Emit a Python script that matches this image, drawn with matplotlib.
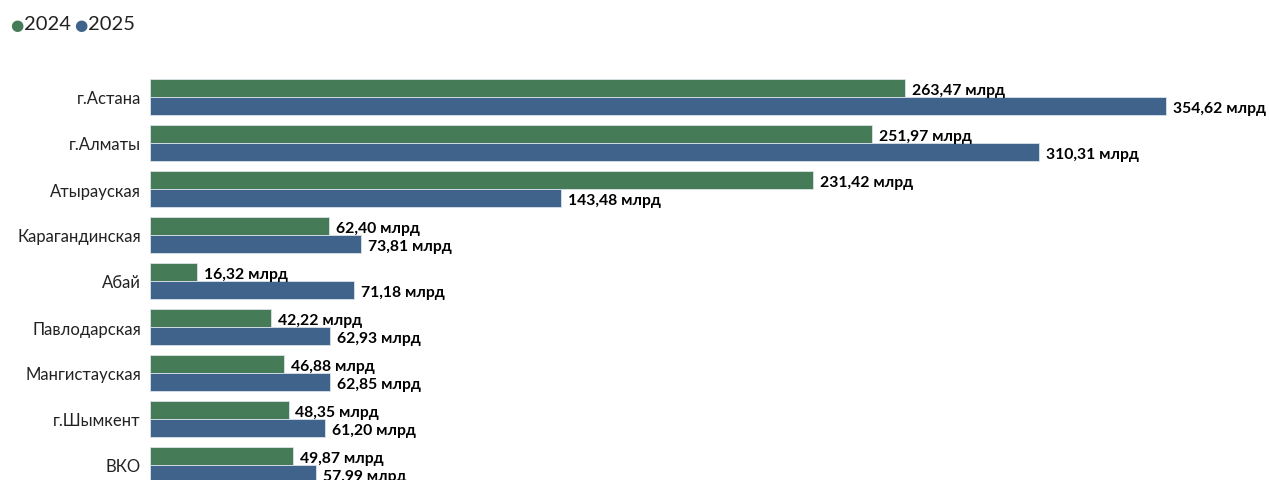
import matplotlib.pyplot as plt
import numpy as np

plt.rcParams['font.family'] = ['Lato', 'DejaVu Sans']

regions = ["г.Астана", "г.Алматы", "Атырауская", "Карагандинская", "Абай",
           "Павлодарская", "Мангистауская", "г.Шымкент", "ВКО"]
values_2024 = [263.47, 251.97, 231.42, 62.40, 16.32, 42.22, 46.88, 48.35, 49.87]
values_2025 = [354.62, 310.31, 143.48, 73.81, 71.18, 62.93, 62.85, 61.20, 57.99]
years = ["2024", "2025"]

GREEN = "#467b57"
BLUE = "#3f638b"
BAR_H = 0.39

fig = plt.figure(figsize=(12.69, 4.81), dpi=100)
ax = fig.add_axes([150 / 1269, 0, 1 - 150 / 1269, (481 - 70) / 481])

y = np.arange(len(regions))
for vals, color, off in [(values_2024, GREEN, -BAR_H / 2), (values_2025, BLUE, BAR_H / 2)]:
    ax.barh(y + off, vals, height=BAR_H, color=color,
            edgecolor="#dce3ea", linewidth=0.6)
    for yy, v in zip(y + off, vals):
        label = f"{v:.2f}".replace(".", ",") + " млрд"
        ax.annotate(label, (v, yy), xytext=(5, -1.5), textcoords="offset points",
                    va="center", ha="left", fontsize=11.3, fontweight="bold",
                    color="black", annotation_clip=False)

ax.set_xlim(0, (1269 - 150) / 2.865)
ax.set_ylim(8 + 15 / 46, -28 / 46)
ax.set_yticks(y)
ax.set_yticklabels(regions, fontsize=12, color="#222222")
ax.tick_params(axis="y", length=0, pad=6.5)
ax.set_xticks([])
for s in ax.spines.values():
    s.set_visible(False)

# legend drawn by hand at the top left
fig.text(10 / 1269, 1 - 25 / 481, "●", color=GREEN, fontsize=11, va="center",
         family="DejaVu Sans")
fig.text(24 / 1269, 1 - 25 / 481, years[0], fontsize=14.5, va="center", color="#222222")
fig.text(74 / 1269, 1 - 25 / 481, "●", color=BLUE, fontsize=11, va="center",
         family="DejaVu Sans")
fig.text(88 / 1269, 1 - 25 / 481, years[1], fontsize=14.5, va="center", color="#222222")

fig.savefig("out.png", dpi=100, facecolor="white")
